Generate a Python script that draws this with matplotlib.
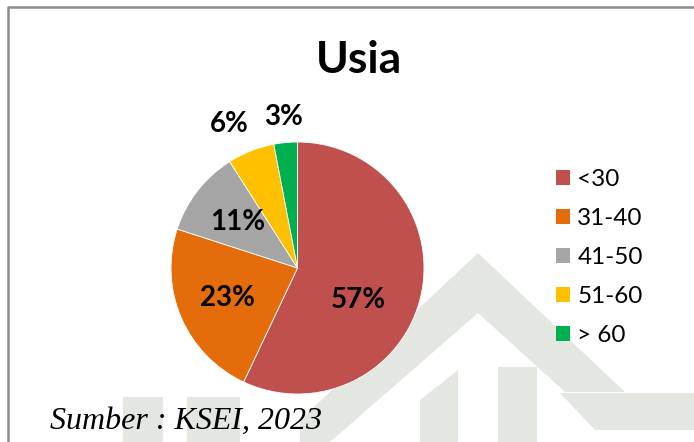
import matplotlib.pyplot as plt
from matplotlib.patches import Polygon

kelompok = ["<30", "31-40", "41-50", "51-60", "> 60"]
persen = [57, 23, 11, 6, 3]
warna = ["#C0504D", "#E46C0A", "#A5A5A5", "#FFC000", "#00B050"]

fig = plt.figure(figsize=(6.94, 4.42), dpi=100)

# background: frame line + faint watermark (pixel coords)
bg = fig.add_axes([0, 0, 1, 1], zorder=0)
bg.set_xlim(0, 694)
bg.set_ylim(442, 0)
bg.axis("off")
wm = "#E4E7E1"
bentuk = [
    [(123, 397), (163, 397), (163, 442), (123, 442)],
    [(187, 397), (240, 397), (240, 442), (187, 442)],
    [(300, 420), (478, 253), (625, 392), (565, 392), (478, 313), (330, 442), (300, 442)],
    [(420, 400), (458, 370), (458, 442), (420, 442)],
    [(498, 367), (537, 367), (537, 442), (498, 442)],
    [(560, 393), (694, 393), (694, 430), (595, 430)],
]
for b in bentuk:
    bg.add_patch(Polygon(b, closed=True, facecolor=wm, edgecolor="none"))
bg.plot([8, 8, 694], [442, 7, 7], color="#8C8C8C", lw=1.8, solid_capstyle="butt")

fig.text(359 / 694, 1 - 60 / 442, "Usia", ha="center", va="center",
         fontsize=32, fontweight="bold", family="Lato")

ax = fig.add_axes([171 / 694, 48 / 442, 253 / 694, 252 / 442], zorder=2)
wedges, teks, pct = ax.pie(persen, colors=warna, startangle=90, counterclock=False,
                           autopct="%d%%", pctdistance=0.6,
                           wedgeprops=dict(edgecolor="white", linewidth=0.6),
                           textprops=dict(fontsize=20, fontweight="bold", family="Lato"))
ax.set_aspect("auto")
ax.set_xlim(-1, 1)
ax.set_ylim(-1, 1)

# label kecil di luar irisan, label terbesar digeser seperti di Excel
for w, t, p in zip(wedges, pct, persen):
    if p < 8:
        x, y = t.get_position()
        t.set_position((x * 2.0, y * 2.0))
pct[0].set_position((0.48, -0.25))
pct[3].set_position((-0.54, 1.14))

leg = fig.legend(wedges, kelompok, loc="upper left",
                 bbox_to_anchor=(556 / 694, 1 - 169 / 442),
                 frameon=False, borderpad=0, borderaxespad=0,
                 handlelength=0.58, handleheight=0.58, handletextpad=0.3,
                 labelspacing=0.74, prop=dict(family="Lato", size=17.5))
for h in leg.legend_handles:
    h.set_edgecolor("none")

fig.text(50 / 694, 1 - 429 / 442, "Sumber : KSEI, 2023", ha="left", va="baseline",
         fontsize=23, style="italic", family="Liberation Serif")

fig.savefig("out.png", dpi=100)
